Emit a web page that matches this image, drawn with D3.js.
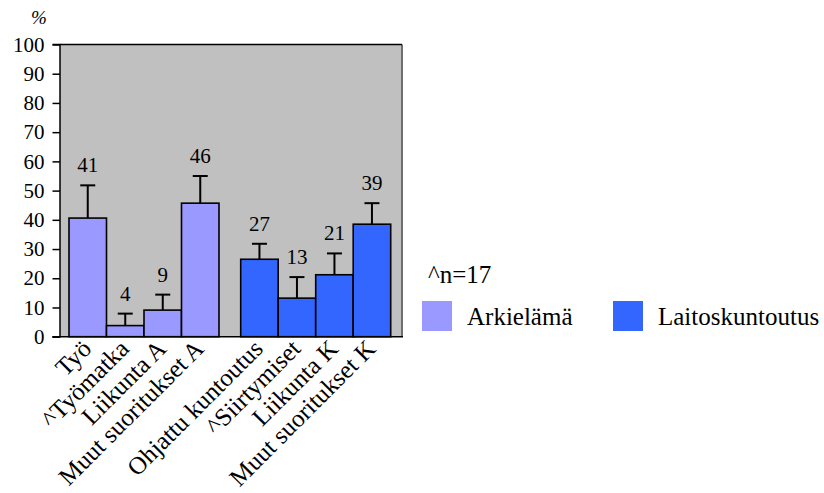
<!DOCTYPE html>
<html>
<head>
<meta charset="utf-8">
<script src="https://cdn.jsdelivr.net/npm/d3@7"></script>
<style>
  html, body { margin: 0; padding: 0; background: #fff; }
  svg { display: block; font-family: "Liberation Serif", "Times New Roman", serif; }
  svg text { font-family: "Liberation Serif", "Times New Roman", serif; }
</style>
</head>
<body>
<svg id="chart" width="824" height="493"></svg>
<script>
// ---- data ----
const categories = ["Työ", "^Työmatka", "Liikunta A", "Muut suoritukset A",
                    "Ohjattu kuntoutus", "^Siirtymiset", "Liikunta K", "Muut suoritukset K"];
const groups = ["Arkielämä", "Laitoskuntoutus"];
const groupOf = [0, 0, 0, 0, 1, 1, 1, 1];
const values = [40.6, 3.8, 9.1, 45.7, 26.5, 13.2, 21.2, 38.5];
const errorUp = [11.2, 4.1, 5.3, 9.3, 5.3, 7.2, 7.3, 7.2];
const valueLabels = ["41", "4", "9", "46", "27", "13", "21", "39"];
const yTicks = [0, 10, 20, 30, 40, 50, 60, 70, 80, 90, 100];
const colors = ["#9999FF", "#3366FF"];
const note = "^n=17";

// ---- layout ----
const svg = d3.select("#chart");
const plot = { left: 60, top: 44.5, right: 402, bottom: 336.7 };

const y = d3.scaleLinear().domain([0, 100]).range([plot.bottom, plot.top]);
const xGroup = d3.scaleBand().domain(groups).range([69, 390.7]).paddingInner(0.1264).paddingOuter(0);
const xInner = d3.scaleBand().domain([0, 1, 2, 3]).range([0, xGroup.bandwidth()]).padding(0);
const barX = i => xGroup(groups[groupOf[i]]) + xInner(i % 4);
const bw = xInner.bandwidth();

// plot background
svg.append("rect")
  .attr("x", plot.left).attr("y", plot.top)
  .attr("width", plot.right - plot.left).attr("height", plot.bottom - plot.top)
  .attr("fill", "#C0C0C0");

// right border (dark gray) and top border
svg.append("line")
  .attr("x1", plot.right).attr("x2", plot.right)
  .attr("y1", plot.top).attr("y2", plot.bottom)
  .attr("stroke", "#6e6e6e").attr("stroke-width", 2);
svg.append("line")
  .attr("x1", plot.left).attr("x2", plot.right)
  .attr("y1", plot.top).attr("y2", plot.top)
  .attr("stroke", "#000").attr("stroke-width", 1.5);

// bars
svg.append("g").selectAll("rect").data(values).join("rect")
  .attr("x", (d, i) => barX(i))
  .attr("y", d => y(d))
  .attr("width", bw)
  .attr("height", d => y(0) - y(d))
  .attr("fill", (d, i) => colors[groupOf[i]])
  .attr("stroke", "#000").attr("stroke-width", 1.6);

// error bars (upper only)
const eg = svg.append("g").attr("stroke", "#000").attr("stroke-width", 2);
values.forEach((v, i) => {
  const cx = barX(i) + bw / 2;
  eg.append("line").attr("x1", cx).attr("x2", cx).attr("y1", y(v)).attr("y2", y(v + errorUp[i]));
  eg.append("line").attr("x1", cx - 7.5).attr("x2", cx + 7.5).attr("y1", y(v + errorUp[i])).attr("y2", y(v + errorUp[i]));
});

// value labels
svg.append("g").selectAll("text").data(values).join("text")
  .attr("x", (d, i) => barX(i) + bw / 2)
  .attr("y", (d, i) => y(d + errorUp[i]) - 13)
  .attr("text-anchor", "middle")
  .attr("font-size", 21)
  .attr("fill", "#000")
  .text((d, i) => valueLabels[i]);

// y axis
const yAxis = d3.axisLeft(y).tickValues(yTicks).tickSize(7.5).tickPadding(8).tickFormat(d3.format("d"));
const ya = svg.append("g").attr("transform", `translate(${plot.left},0)`).call(yAxis);
ya.attr("font-family", null);
ya.select(".domain").attr("stroke", "#000").attr("stroke-width", 1.5).attr("d", `M-7.5,${plot.top}H0V${plot.bottom}H-7.5`);
ya.selectAll(".tick line").attr("stroke", "#000").attr("stroke-width", 1.5);
ya.selectAll(".tick text").attr("font-size", 21).attr("fill", "#000").attr("dy", "0.32em");

// x axis baseline
svg.append("line")
  .attr("x1", plot.left - 7.5).attr("x2", plot.right + 1)
  .attr("y1", plot.bottom).attr("y2", plot.bottom)
  .attr("stroke", "#000").attr("stroke-width", 1.5);

// category labels (rotated)
svg.append("g").selectAll("text").data(categories).join("text")
  .attr("transform", (d, i) => `translate(${barX(i) + bw / 2 + 5},${plot.bottom + 13.5}) rotate(-45)`)
  .attr("text-anchor", "end")
  .attr("font-size", 25)
  .attr("fill", "#000")
  .text(d => d);

// % unit label
svg.append("text")
  .attr("x", 39).attr("y", 24)
  .attr("text-anchor", "middle")
  .attr("font-size", 19)
  .attr("font-style", "italic")
  .text("%");

// note and legend
svg.append("text").attr("x", 428).attr("y", 283).attr("font-size", 25).text(note);
const lx = [422, 613];
groups.forEach((g, i) => {
  svg.append("rect").attr("x", lx[i]).attr("y", 301).attr("width", 30).attr("height", 30).attr("fill", colors[i]);
  svg.append("text").attr("x", lx[i] + 45).attr("y", 325).attr("font-size", 25).text(g);
});
</script>
</body>
</html>
